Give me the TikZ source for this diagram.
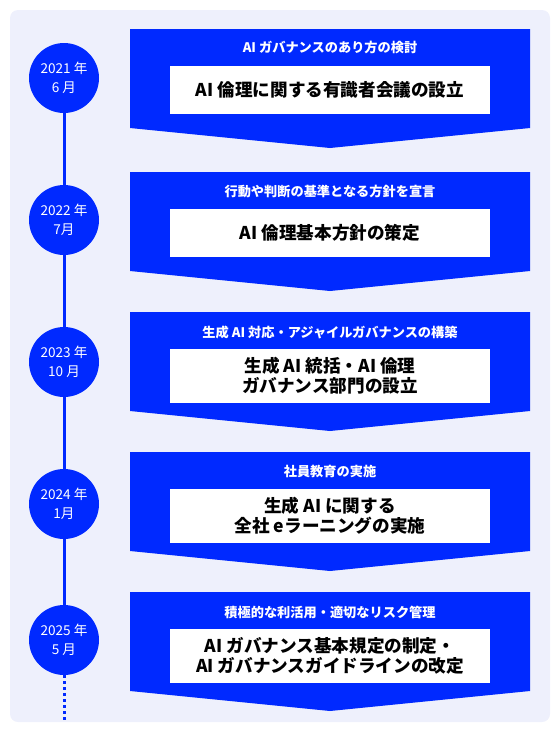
\documentclass[tikz,border=0pt]{standalone}
\usepackage{fontspec}
\setmainfont{Noto Sans CJK JP}
\usepackage{tikz}

\definecolor{brand}{RGB}{0,41,255}
\definecolor{panel}{RGB}{238,240,252}

\newcommand{\chevron}[1]{\fill[brand] (130,#1) -- (530,#1) -- (530,#1+99) -- (330,#1+119) -- (130,#1+99) -- cycle;}

\begin{document}
\begin{tikzpicture}[x=1pt, y=-1pt,
    year/.style={circle, fill=brand, text=white, minimum size=70pt, inner sep=0pt, align=center, font=\fontsize{13.6}{19}\selectfont},
    heading/.style={text=white, font=\bfseries\fontsize{13.2}{15}\selectfont},
    result/.style={fill=white, minimum width=320pt, inner sep=0pt, align=center, font=\bfseries\fontsize{17.6}{20}\selectfont},
    axis/.style={brand, line width=3pt}]
    \useasboundingbox (0,0) rectangle (560,740);
    \fill[panel, rounded corners=8pt] (10,10) rectangle (550,722);

    % steps
    \chevron{29}
    \node[heading] (h1) at (330,47) {AI ガバナンスのあり方の検討};
    \node[result, minimum height=48pt] (r1) at (330,90) {AI 倫理に関する有識者会議の設立};
    \chevron{172}
    \node[heading] (h2) at (330,191) {行動や判断の基準となる方針を宣言};
    \node[result, minimum height=48pt] (r2) at (330,233) {AI 倫理基本方針の策定};
    \chevron{312}
    \node[heading] (h3) at (330,332) {生成 AI 対応・アジャイルガバナンスの構築};
    \node[result, minimum height=54pt] (r3) at (330,376) {生成 AI 統括・AI 倫理\\ガバナンス部門の設立};
    \chevron{452}
    \node[heading] (h4) at (330,472) {社員教育の実施};
    \node[result, minimum height=54pt] (r4) at (330,516) {生成 AI に関する\\全社 eラーニングの実施};
    \chevron{592}
    \node[heading] (h5) at (330,612) {積極的な利活用・適切なリスク管理};
    \node[result, minimum height=54pt] (r5) at (330,656) {AI ガバナンス基本規定の制定・\\AI ガバナンスガイドラインの改定};

    % timeline
    \node[year] (c1) at (64,78) {2021 年\\6 月};
    \node[year] (c2) at (64,220) {2022 年\\7月};
    \node[year] (c3) at (64,362) {2023 年\\10 月};
    \node[year] (c4) at (64,504) {2024 年\\1月};
    \node[year] (c5) at (64,640) {2025 年\\5 月};
    \coordinate (tail) at (64,722);
    \draw[axis] (c1) -- (c2);
    \draw[axis] (c2) -- (c3);
    \draw[axis] (c3) -- (c4);
    \draw[axis] (c4) -- (c5);
    \draw[axis, dash pattern=on 3pt off 3pt] (c5) -- (tail);
\end{tikzpicture}
\end{document}
